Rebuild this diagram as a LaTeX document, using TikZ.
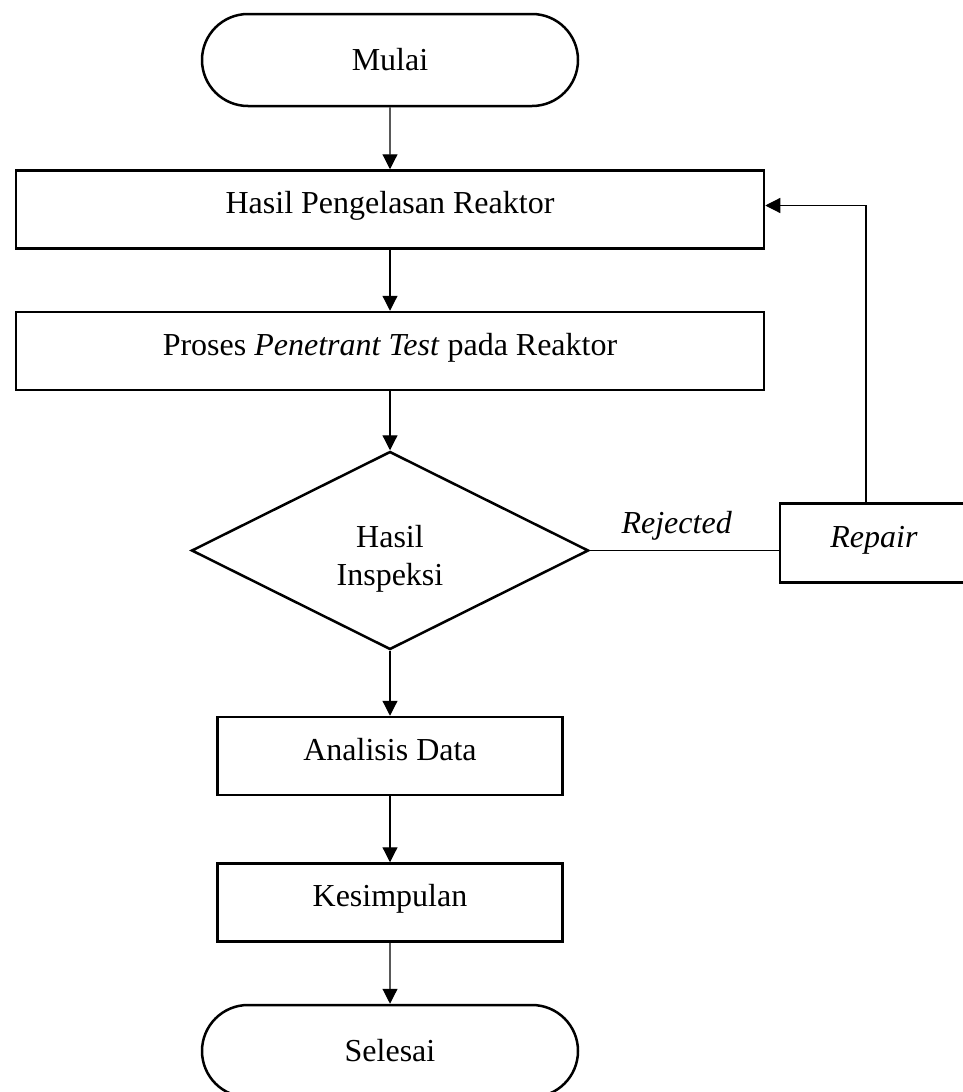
\documentclass[tikz,border=0pt]{standalone}
\usepackage{fontspec}
\setmainfont{Liberation Serif}
\usetikzlibrary{positioning,shapes.geometric,shapes.misc,arrows.meta}

\begin{document}
\begin{tikzpicture}[x=1pt,y=-1pt,->,>={Triangle[length=15pt,width=15pt]},line width=1.2pt,
  node distance=62pt,font=\fontsize{32}{38}\selectfont,
  term/.style={rounded rectangle,draw,line width=2.5pt,minimum width=376pt,minimum height=92pt,inner sep=0pt},
  proc/.style={rectangle,draw,line width=2.5pt,minimum height=78pt,inner sep=0pt,text height=20pt,text depth=12pt},
  decision/.style={diamond,draw,line width=2.5pt,minimum width=397pt,minimum height=198pt,inner sep=0pt}]
   \useasboundingbox (0,0) rectangle (963,1092);
   \node[term] (mulai) at (390,60) {Mulai};
   \node[proc,minimum width=748pt] (hasil) [below=of mulai] {Hasil Pengelasan Reaktor};
   \node[proc,minimum width=748pt] (proses) [below=61pt of hasil] {Proses \textit{Penetrant Test} pada Reaktor};
   \node[decision,label={[align=center,yshift=-8pt]center:Hasil\\Inspeksi}] (cek) [below=59pt of proses] {};
   \node[proc,minimum width=345pt] (analisis) [below=65pt of cek] {Analisis Data};
   \node[proc,minimum width=345pt] (simpul) [below=66pt of analisis] {Kesimpulan};
   \node[term] (selesai) [below=61pt of simpul] {Selesai};
   \node[proc,minimum width=188pt,minimum height=79pt] (repair) at (874,543) {\textit{Repair}};
    \path[->]
    (mulai) edge (hasil)
    (hasil) edge (proses)
    (proses) edge (cek)
    (cek) edge (analisis)
    (analisis) edge (simpul)
    (simpul) edge (selesai);
    % rejected -> repair -> back to welding
    \draw[-] (cek.east) -- node[above=6pt,pos=.46] {\textit{Rejected}} (cek.east -| repair.west);
    \draw[->] ([xshift=-8pt]repair.north) |- ([yshift=4pt]hasil.east);
\end{tikzpicture}
\end{document}
